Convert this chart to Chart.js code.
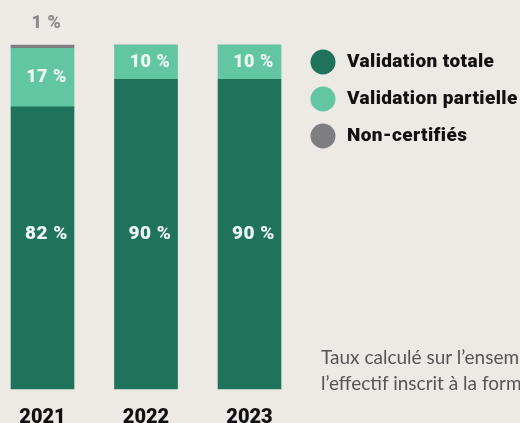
<!DOCTYPE html>
<html lang="fr">
<head>
<meta charset="utf-8">
<script src="https://cdn.jsdelivr.net/npm/chart.js@4.4.0/dist/chart.umd.min.js"></script>
<style>
    html, body { margin: 0; padding: 0; background: #ede9e5; overflow: hidden; }
    #wrap { position: relative; width: 520px; height: 423px; overflow: hidden; }
    #chart { position: absolute; left: 0; top: 0; }
    .note {
        position: absolute; left: 321px; top: 344px;
        font-family: Lato, "Noto Sans", sans-serif; font-size: 19px; line-height: 26px;
        color: #555; white-space: nowrap;
    }
</style>
</head>
<body>
<div id="wrap">
    <canvas id="chart" width="520" height="423"></canvas>
    <div class="note">Taux calculé sur l’ensemble de<br>l’effectif inscrit à la formation</div>
</div>
<script>
const years = ['2021', '2022', '2023'];
const validationTotale = [82, 90, 90];
const validationPartielle = [17, 10, 10];
const nonCertifies = [1, 0, 0];
const seriesNames = ['Validation totale', 'Validation partielle', 'Non-certifiés'];
const seriesColors = ['#1f735a', '#62c6a2', '#7e7e80'];

const HEAVY = 'Roboto, "Liberation Sans", Arial, sans-serif';

// percentage labels on / above the bars
const valueLabels = {
    id: 'valueLabels',
    afterDatasetsDraw(chart) {
        const ctx = chart.ctx;
        const yScale = chart.scales.y;
        ctx.save();
        ctx.textAlign = 'center';
        ctx.textBaseline = 'middle';
        ctx.letterSpacing = '0.5px';
        chart.data.datasets.forEach((ds, i) => {
            const meta = chart.getDatasetMeta(i);
            meta.data.forEach((bar, j) => {
                const v = ds.data[j];
                if (!v) return;
                const x = bar.x + 4;
                let y, color;
                if (i === 2) {
                    y = bar.y - 22;
                    color = '#8c8c8c';
                    ctx.font = '900 18px ' + HEAVY;
                } else if (i === 0) {
                    y = yScale.getPixelForValue(45);
                    color = '#eef7f3';
                    ctx.font = '900 19px ' + HEAVY;
                } else {
                    y = (bar.y + bar.base) / 2;
                    color = '#eef7f3';
                    ctx.font = '900 18px ' + HEAVY;
                }
                ctx.fillStyle = color;
                ctx.fillText(v + ' %', x, y);
            });
        });
        ctx.restore();
    }
};

// legend on the right, round markers
const sideLegend = {
    id: 'sideLegend',
    afterDraw(chart) {
        const ctx = chart.ctx;
        ctx.save();
        ctx.textBaseline = 'middle';
        ctx.textAlign = 'left';
        ctx.letterSpacing = '0.4px';
        ctx.font = '900 19px ' + HEAVY;
        chart.data.datasets.forEach((ds, i) => {
            const cy = 62 + i * 37;
            ctx.beginPath();
            ctx.arc(323, cy, 12.5, 0, Math.PI * 2);
            ctx.fillStyle = ds.backgroundColor;
            ctx.fill();
            ctx.fillStyle = '#111';
            ctx.fillText(ds.label, 347, cy);
        });
        ctx.restore();
    }
};

const datasets = [validationTotale, validationPartielle, nonCertifies].map((values, i) => ({
    label: seriesNames[i],
    data: values,
    backgroundColor: seriesColors[i],
    borderWidth: 0,
    barThickness: 63,
    clip: false
}));

new Chart(document.getElementById('chart'), {
    type: 'bar',
    data: { labels: years, datasets },
    options: {
        responsive: false,
        animation: false,
        layout: { padding: { top: 45, left: 42.5, right: 270.5, bottom: 0 } },
        scales: {
            x: {
                stacked: true,
                offset: false,
                grid: { display: false, drawTicks: false },
                border: { display: false },
                ticks: {
                    color: '#111',
                    padding: 17,
                    font: { family: HEAVY, weight: '900', size: 20 }
                },
                afterFit(scale) { scale.height = 34; }
            },
            y: {
                stacked: true,
                display: false,
                min: 0,
                max: 100
            }
        },
        plugins: {
            legend: { display: false },
            tooltip: { enabled: false }
        }
    },
    plugins: [valueLabels, sideLegend]
});
</script>
</body>
</html>
